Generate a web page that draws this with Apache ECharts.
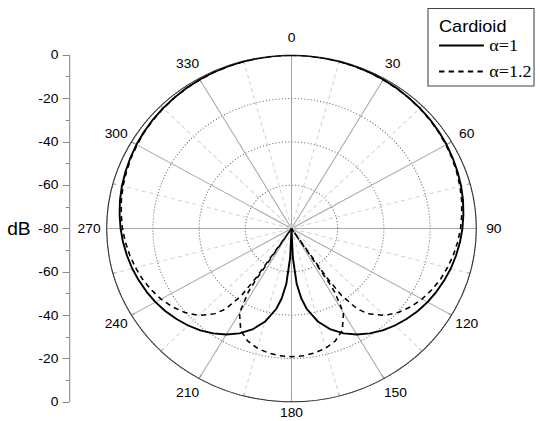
<!DOCTYPE html>
<html><head><meta charset="utf-8">
<script src="https://cdn.jsdelivr.net/npm/echarts/dist/echarts.min.js"></script>
<style>
html,body{margin:0;padding:0;overflow:hidden;background:#fff;width:540px;height:421px}
#c{position:absolute;left:0;top:0;width:540px;height:421px;transform-origin:291.5px 228.5px;transform:scaleX(1.0663)}
</style>
</head><body><div id="c"></div>
<script>
// ---- data ----
const seriesNames = ['\u03b1=1', '\u03b1=1.2'];
const legendTitle = 'Cardioid';
const angleLabels = ['0','30','60','90','120','150','180','210','240','270','300','330'];
const dbLabels = ['0','-20','-40','-60','-80','-60','-40','-20','0'];
const axisName = 'dB';

// alpha = 1 (angle in degrees, level in dB, floor -80)
const angles1 = [0,5,10,15,20,25,30,35,40,45,50,55,60,65,70,75,80,85,90,95,100,105,110,115,120,125,130,135,140,145,150,155,160,165,170,172.5,175,177.5,180,
                 182.5,185,187.5,190,195,200,205,210,215,220,225,230,235,240,245,250,255,260,265,270,275,280,285,290,295,300,305,310,315,320,325,330,335,340,345,350,355,360];
const db1 = [0,0,-0.1,-0.1,-0.3,-0.4,-0.6,-0.8,-1.1,-1.4,-1.7,-2.1,-2.5,-3.0,-3.5,-4.0,-4.6,-5.3,-6.0,-6.8,-7.7,-8.6,-9.7,-10.8,-12.0,-13.4,-15.0,-16.7,-18.6,-20.9,-23.5,-26.6,-30.4,-35.4,-42.4,-47.4,-54.4,-66.5,-80,
             -66.5,-54.4,-47.4,-42.4,-35.4,-30.4,-26.6,-23.5,-20.9,-18.6,-16.7,-15.0,-13.4,-12.0,-10.8,-9.7,-8.6,-7.7,-6.8,-6.0,-5.3,-4.6,-4.0,-3.5,-3.0,-2.5,-2.1,-1.7,-1.4,-1.1,-0.8,-0.6,-0.4,-0.3,-0.1,-0.1,0,0];

// alpha = 1.2
const angles2 = [0,5,10,15,20,25,30,35,40,45,50,55,60,65,70,75,80,85,90,95,100,105,110,115,120,125,130,135,140,142.5,145,146,146.4,147,147.5,150,155,160,165,170,175,180,
                 185,190,195,200,205,210,212.5,213,213.6,214,215,217.5,220,225,230,235,240,245,250,255,260,265,270,275,280,285,290,295,300,305,310,315,320,325,330,335,340,345,350,355,360];
const db2 = [0,0,-0.1,-0.2,-0.3,-0.5,-0.7,-0.9,-1.2,-1.5,-1.9,-2.3,-2.8,-3.3,-3.9,-4.5,-5.2,-6.0,-6.8,-7.8,-8.9,-10.1,-11.4,-13.0,-14.8,-17.0,-19.7,-23.2,-28.7,-33.2,-42.2,-52.6,-80,-50.7,-45.2,-35.0,-28.0,-24.7,-22.8,-21.7,-21.0,-20.8,
             -21.0,-21.7,-22.8,-24.7,-28.0,-35.0,-45.2,-50.7,-80,-52.6,-42.2,-33.2,-28.7,-23.2,-19.7,-17.0,-14.8,-13.0,-11.4,-10.1,-8.9,-7.8,-6.8,-6.0,-5.2,-4.5,-3.9,-3.3,-2.8,-2.3,-1.9,-1.5,-1.2,-0.9,-0.7,-0.5,-0.3,-0.2,-0.1,0,0];

// ---- layout (the whole chart is stretched horizontally like the reference) ----
const S = 1.0663, CX = 291.5, CY = 228.5;
const X = x => CX + (x - CX) / S;   // screen x -> chart x
const sans = 'Liberation Sans, Arial, sans-serif';
const serif = 'Liberation Serif, Times New Roman, serif';

// angle labels are centred on a ring just outside the circle: per-label padding
const LABEL_FS = 13, DIGIT_W = 0.556 * LABEL_FS;
const labelRich = {};
angleLabels.forEach((t, i) => {
  const a = i * 30 * Math.PI / 180;
  const sx = Math.sin(a), sy = -Math.cos(a);
  const d = i === 0 ? 18 : (i === 6 ? 11 : 16.5);
  const dx = d * sx, dy = d * sy, w = t.length * DIGIT_W, h = LABEL_FS;
  let pl = 0, pr = 0, pt = 0, pb = 0;
  if (Math.abs(sx) < 0.3) { if (dx > 0) pl = 2 * dx; else pr = -2 * dx; }
  else if (sx > 0) pl = Math.max(0, dx - w / 2);
  else pr = Math.max(0, -dx - w / 2);
  if (Math.abs(sy) < 0.3) { if (dy > 0) pt = 2 * dy; else pb = -2 * dy; }
  else if (sy > 0) pt = Math.max(0, dy - h / 2);
  else pb = Math.max(0, -dy - h / 2);
  labelRich['l' + i] = {fontSize: LABEL_FS, fontFamily: sans, color: '#000', padding: [pt, pr, pb, pl]};
});

const chart = echarts.init(document.getElementById('c'), null, {renderer: 'svg'});
chart.setOption({
  animation: false,
  backgroundColor: '#fff',
  color: ['#000', '#000'],
  textStyle: {fontFamily: sans},
  polar: {center: [CX, CY], radius: 173.3},
  angleAxis: {
    type: 'value', min: 0, max: 360, interval: 30, startAngle: 90, clockwise: true,
    axisLine: {show: true, lineStyle: {color: '#333', width: 1}},
    axisTick: {show: true, inside: true, length: 4, lineStyle: {color: '#555', width: 1}},
    axisLabel: {show: true, margin: 0, fontSize: LABEL_FS, color: '#000', fontFamily: sans,
      rich: labelRich,
      formatter: v => {
        const i = Math.round(v / 30);
        if (v >= 360 || angleLabels[i] === undefined) return '';
        return '{l' + i + '|' + angleLabels[i] + '}';
      }},
    splitLine: {show: true, lineStyle: {color: '#a8a8a8', width: 1}},
    minorTick: {show: true, splitNumber: 2, length: 3, lineStyle: {color: '#777', width: 1}},
    minorSplitLine: {show: true, lineStyle: {color: '#d4d4d4', width: 1, type: [4, 3]}}
  },
  radiusAxis: {
    type: 'value', min: -80, max: 0, interval: 20,
    axisLine: {show: false}, axisTick: {show: false}, axisLabel: {show: false},
    splitLine: {show: true, lineStyle: {color: '#666', width: 1, type: [1, 2]}}
  },
  grid: {left: X(69), top: 55, bottom: 19, width: 10},
  xAxis: {type: 'value', show: false, min: 0, max: 1},
  yAxis: {
    type: 'value', min: 0, max: 160, interval: 20, position: 'left',
    axisLine: {show: true, lineStyle: {color: '#888', width: 1}},
    axisTick: {show: true, inside: false, length: 6, lineStyle: {color: '#888'}},
    minorTick: {show: true, splitNumber: 2, length: 3, lineStyle: {color: '#888'}},
    axisLabel: {margin: 10, fontSize: 13, color: '#000', fontFamily: sans, formatter: v => dbLabels[Math.round(v / 20)]},
    splitLine: {show: false},
    name: axisName, nameLocation: 'middle', nameRotate: 0, nameGap: 36,
    nameTextStyle: {fontSize: 18, color: '#000', fontFamily: sans}
  },
  legend: {
    orient: 'vertical', left: X(438), top: 37, padding: 0,
    itemWidth: 42, itemHeight: 17, itemGap: 9, selectedMode: false,
    itemStyle: {opacity: 0},
    textStyle: {fontFamily: serif, fontSize: 17, color: '#000'},
    data: seriesNames
  },
  graphic: [
    {type: 'rect', z: 1, shape: {x: X(428), y: 8.5, width: X(534) - X(428), height: 77.5},
     style: {fill: '#fff', stroke: '#444', lineWidth: 1}},
    {type: 'text', z: 2, style: {text: legendTitle, x: X(439), y: 26, verticalAlign: 'middle', align: 'left',
     fontSize: 17, fontFamily: sans, fill: '#000'}}
  ],
  series: [
    {name: seriesNames[0], type: 'line', coordinateSystem: 'polar', symbol: 'none', z: 5,
     data: angles1.map((a, i) => [db1[i], a]),
     itemStyle: {color: '#000'},
     lineStyle: {color: '#000', width: 1.8, type: 'solid'}},
    {name: seriesNames[1], type: 'line', coordinateSystem: 'polar', symbol: 'none', z: 5,
     data: angles2.map((a, i) => [db2[i], a]),
     itemStyle: {color: '#000'},
     lineStyle: {color: '#000', width: 1.5, type: [5, 4]}}
  ]
});
</script></body></html>
